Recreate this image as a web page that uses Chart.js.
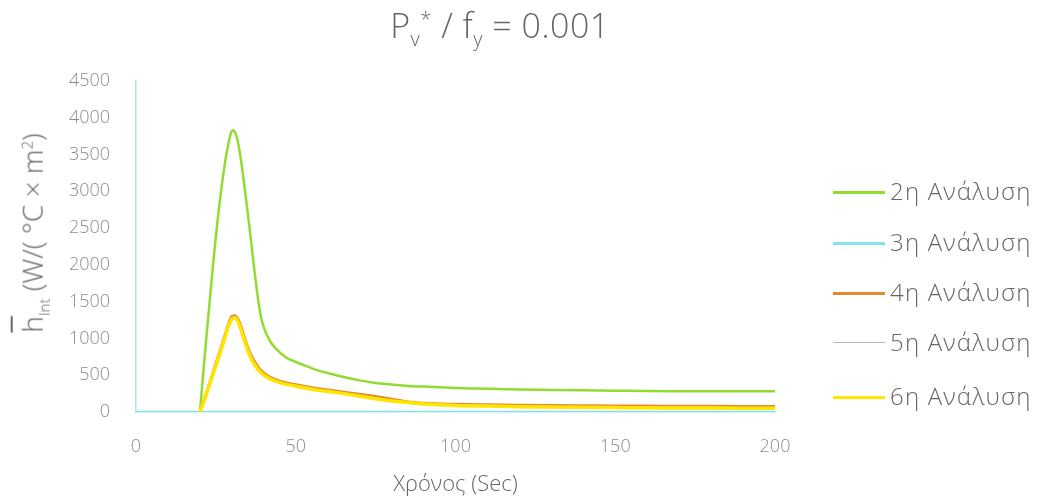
<!DOCTYPE html>
<html>
<head>
<meta charset="utf-8">
<script src="https://cdn.jsdelivr.net/npm/chart.js@4"></script>
<style>
  body { margin: 0; background: #fff; }
  #wrap { position: relative; width: 1039px; height: 500px; font-family: 'Open Sans', sans-serif; font-weight: 300; color: #666; }
  #title { position: absolute; left: 0; width: 1000px; top: 2px; text-align: center; font-size: 34px; letter-spacing: 0.5px; }
  #title sub, #title sup { font-size: 20px; }
  #ytitle { position: absolute; left: 33px; top: 233px; transform: translate(-50%, -50%) rotate(-90deg); white-space: nowrap; font-size: 28px; }
  #ytitle sub, #ytitle sup { font-size: 15px; }
  .ov { text-decoration: overline; }
  #legend { position: absolute; left: 833px; top: 0; }
  .item { position: absolute; left: 0; white-space: nowrap; font-size: 24px; letter-spacing: 1.2px; }
  .item span.sw { position: absolute; left: 0; width: 52px; }
  .item span.tx { position: absolute; left: 57px; top: -18px; }
</style>
</head>
<body>
<div id="wrap">
  <canvas id="chart" width="1039" height="500"></canvas>
  <div id="title">P<sub>v</sub><sup>*</sup> / f<sub>y</sub> = 0.001</div>
  <div id="ytitle"><span class="ov">h</span><sub>Int</sub> (W/( °C × m<sup>2</sup>)</div>
  <div id="legend"></div>
</div>
<script>
// time axis (sec) and values for each analysis
const seriesNames = ["2η Ανάλυση", "3η Ανάλυση", "4η Ανάλυση", "5η Ανάλυση", "6η Ανάλυση"];

const time2 = [20, 22, 24, 26, 28, 29, 29.5, 30, 30.5, 31, 31.5, 32, 33, 34, 35, 36, 37, 38, 39, 40, 42, 44, 47, 50, 53, 56, 60, 65, 70, 75, 80, 85, 90, 95, 100, 110, 120, 130, 140, 150, 160, 170, 180, 190, 200];
const h2 = [0, 1000, 1950, 2780, 3430, 3660, 3760, 3820, 3830, 3800, 3740, 3650, 3380, 3050, 2700, 2330, 1950, 1600, 1320, 1150, 960, 850, 740, 680, 630, 580, 530, 475, 430, 395, 375, 355, 345, 335, 325, 315, 305, 300, 295, 290, 285, 283, 282, 282, 282];

const time3 = [0, 20, 50, 100, 150, 200];
const h3 = [0, 0, 0, 0, 0, 0];

const timeLow = [20, 22, 24, 26, 28, 29, 30, 31, 32, 33, 34, 35, 36, 37, 38, 40, 42, 45, 50, 55, 60, 65, 70, 75, 80, 85, 90, 100, 110, 120, 130, 140, 150, 160, 170, 180, 190, 200];
const h4 = [0, 250, 520, 790, 1060, 1200, 1300, 1310, 1250, 1140, 1000, 870, 770, 690, 620, 530, 470, 420, 370, 330, 300, 270, 240, 210, 175, 135, 118, 105, 98, 92, 88, 85, 82, 80, 78, 77, 76, 75];
const h5 = [0, 245, 510, 775, 1045, 1185, 1285, 1295, 1235, 1120, 980, 850, 750, 670, 605, 515, 460, 410, 360, 320, 290, 260, 228, 195, 162, 132, 114, 98, 89, 82, 78, 74, 71, 69, 67, 65, 64, 63];
const h6 = [0, 240, 500, 760, 1030, 1170, 1265, 1280, 1220, 1100, 960, 830, 730, 650, 590, 500, 450, 400, 350, 310, 280, 250, 215, 180, 150, 130, 110, 90, 80, 72, 68, 63, 60, 57, 55, 53, 52, 50];

const yTicks = [0, 500, 1000, 1500, 2000, 2500, 3000, 3500, 4000, 4500];
const xTicks = [0, 50, 100, 150, 200];

const colors = ["#92dc32", "#86e1ea", "#e88a2c", "#b5b5b5", "#ffe600"];
const widths = [2.5, 2.5, 3, 1.2, 3.5];

function pts(t, v) {
    return t.map((x, i) => ({ x: x, y: v[i] }));
}

const seriesData = [pts(time2, h2), pts(time3, h3), pts(timeLow, h4), pts(timeLow, h5), pts(timeLow, h6)];

const datasets = seriesNames.map((name, i) => ({
    label: name,
    data: seriesData[i],
    borderColor: colors[i],
    backgroundColor: colors[i],
    borderWidth: widths[i],
    pointRadius: 0,
    cubicInterpolationMode: 'monotone',
    fill: false,
    order: seriesNames.length - i
}));

Chart.defaults.font.family = "'Open Sans', sans-serif";
Chart.defaults.font.weight = '300';
Chart.defaults.color = "#8c8c8c";

const ctx = document.getElementById('chart').getContext('2d');
const myChart = new Chart(ctx, {
    type: 'line',
    data: { datasets: datasets },
    options: {
        responsive: false,
        animation: false,
        layout: { padding: { left: 60, right: 264, top: 81, bottom: 0 } },
        plugins: {
            legend: { display: false },
            tooltip: { enabled: false }
        },
        scales: {
            x: {
                type: 'linear',
                min: 0,
                max: 200,
                afterBuildTicks: (scale) => { scale.ticks = xTicks.map(v => ({ value: v })); },
                afterFit: (scale) => { scale.height = 88; },
                ticks: { padding: 24, font: { size: 18 }, callback: (v) => String(v) },
                grid: { display: false, drawTicks: false },
                border: { display: true, color: '#a6e6ec', width: 1.5 },
                title: { display: true, text: 'Χρόνος (Sec)', font: { size: 22 }, color: '#666', padding: { top: 0, bottom: 2 } }
            },
            y: {
                min: 0,
                max: 4500,
                afterBuildTicks: (scale) => { scale.ticks = yTicks.map(v => ({ value: v })); },
                afterFit: (scale) => { scale.width = 76; },
                ticks: { padding: 26, font: { size: 18 }, callback: (v) => String(v) },
                grid: { display: false, drawTicks: false },
                border: { display: true, color: '#a6e6ec', width: 1.5 }
            }
        }
    }
});

// legend built from the datasets
const rowY = [192, 243, 293, 343, 397];
const legendDiv = document.getElementById('legend');
datasets.forEach((ds, i) => {
    const item = document.createElement('div');
    item.className = 'item';
    item.style.top = rowY[i] + 'px';
    const sw = document.createElement('span');
    sw.className = 'sw';
    sw.style.borderTop = (i === 3 ? 1.5 : 3) + 'px solid ' + ds.borderColor;
    sw.style.top = (i === 3 ? -1 : -1.5) + 'px';
    const tx = document.createElement('span');
    tx.className = 'tx';
    tx.textContent = ds.label;
    item.appendChild(sw);
    item.appendChild(tx);
    legendDiv.appendChild(item);
});
</script>
</body>
</html>
